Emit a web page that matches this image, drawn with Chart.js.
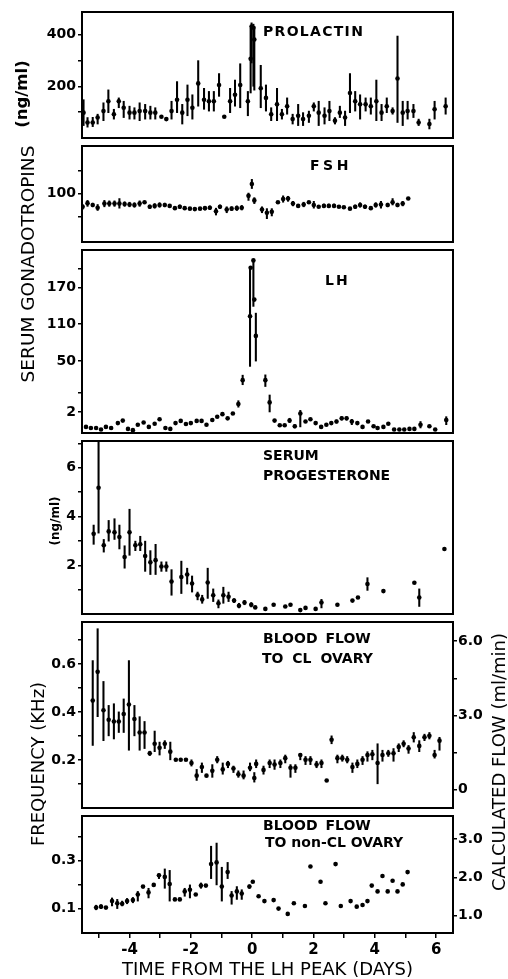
<!DOCTYPE html>
<html>
<head>
<meta charset="utf-8">
<script src="https://cdn.jsdelivr.net/npm/chart.js@4.4.1/dist/chart.umd.min.js"></script>
<style>
  html, body { margin:0; padding:0; background:#fff; }
  body { width:508px; height:979px; position:relative; overflow:hidden; }
  canvas { position:absolute; left:0; }
  .lbl { position:absolute; font-family:'DejaVu Sans'; font-weight:bold; font-size:14px; line-height:1; color:#000; white-space:pre; transform:translateY(-50%); }
  .vt { position:absolute; font-family:'DejaVu Sans'; font-size:18px; line-height:1; color:#000; white-space:nowrap; transform:translate(-50%,-50%) rotate(-90deg); }
</style>
</head>
<body>
<canvas id="c1" width="508" height="142" style="top:0"></canvas>
<canvas id="c2" width="508" height="104" style="top:142px"></canvas>
<canvas id="c3" width="508" height="191" style="top:246px"></canvas>
<canvas id="c4" width="508" height="181" style="top:437px"></canvas>
<canvas id="c5" width="508" height="194" style="top:618px"></canvas>
<canvas id="c6" width="508" height="167" style="top:812px"></canvas>

<div class="lbl" style="left:263px;top:31px;letter-spacing:1.3px">PROLACTIN</div>
<div class="lbl" style="left:310px;top:165px;letter-spacing:3.5px">FSH</div>
<div class="lbl" style="left:325px;top:280px;letter-spacing:2px">LH</div>
<div class="lbl" style="left:263px;top:455px">SERUM</div>
<div class="lbl" style="left:263px;top:475px">PROGESTERONE</div>
<div class="lbl" style="left:263px;top:638px;word-spacing:3px">BLOOD FLOW</div>
<div class="lbl" style="left:262px;top:658px;word-spacing:4px">TO CL OVARY</div>
<div class="lbl" style="left:263px;top:825px;word-spacing:3px">BLOOD FLOW</div>
<div class="lbl" style="left:265px;top:842px">TO non-CL OVARY</div>

<div class="vt" style="left:22px;top:94px;font-weight:bold;font-size:16.5px">(ng/ml)</div>
<div class="vt" style="left:28px;top:264px;font-size:18.5px">SERUM GONADOTROPINS</div>
<div class="vt" style="left:55px;top:521px;font-weight:bold;font-size:12px">(ng/ml)</div>
<div class="vt" style="left:38px;top:764px">FREQUENCY (KHz)</div>
<div class="vt" style="left:499px;top:762px">CALCULATED FLOW (ml/min)</div>

<script>
// ---------------- DATA ----------------
const dayTicks  = [-5,-4,-3,-2,-1,0,1,2,3,4,5,6];
const dayLabels = ['','-4','','-2','','0','','2','','4','','6'];

// Prolactin (ng/ml)
const prlDay = [-5.50,-5.37,-5.20,-5.04,-4.85,-4.69,-4.51,-4.35,-4.19,-4.00,-3.84,-3.67,-3.49,-3.32,-3.16,-2.96,-2.80,-2.63,-2.45,-2.28,-2.11,-1.95,-1.76,-1.57,-1.41,-1.25,-1.08,-0.91,-0.72,-0.56,-0.39,-0.14,-0.05,-0.02,0.04,0.07,0.28,0.45,0.62,0.81,0.97,1.14,1.32,1.50,1.66,1.85,2.01,2.17,2.36,2.52,2.70,2.86,3.03,3.19,3.36,3.52,3.70,3.87,4.05,4.22,4.39,4.58,4.74,4.91,5.07,5.26,5.43,5.78,5.95,6.31];
const prlVal = [98,60,60,79,104,142,92,142,117,98,98,104,104,98,98,82,73,104,148,98,148,117,211,148,142,142,205,82,142,167,205,142,306,431,426,381,192,155,92,130,92,123,73,86,73,86,123,98,86,104,67,98,79,174,142,130,130,123,142,98,123,104,230,98,104,104,60,54,111,123];
const prlLo  = [48,42,44,54,67,98,73,117,79,73,73,67,73,73,73,null,null,73,98,54,86,73,123,111,104,104,161,null,98,123,117,86,174,290,200,185,117,104,67,67,73,92,54,48,48,60,104,48,54,67,54,79,48,98,104,73,104,92,67,67,98,92,60,48,73,79,48,35,73,92];
const prlHi  = [148,79,80,92,136,186,111,155,142,123,117,136,130,123,117,null,null,142,218,130,205,167,299,192,180,180,249,null,192,224,287,180,425,445,440,430,281,205,117,192,111,155,92,130,98,104,136,142,117,142,79,123,104,249,180,167,155,155,224,130,155,117,394,142,142,130,73,73,142,155];
const prlTicks = [100,200,300,400];
const prlTickLabels = ['','200','','400'];

// FSH
const fshDay = [-5.53,-5.37,-5.20,-5.04,-4.82,-4.66,-4.49,-4.33,-4.16,-4.00,-3.84,-3.67,-3.51,-3.34,-3.18,-3.02,-2.85,-2.69,-2.52,-2.36,-2.20,-2.03,-1.87,-1.70,-1.54,-1.38,-1.18,-1.05,-0.83,-0.67,-0.50,-0.34,-0.12,-0.01,0.07,0.32,0.48,0.64,0.84,1.01,1.17,1.33,1.50,1.68,1.85,2.01,2.17,2.34,2.50,2.67,2.83,2.99,3.19,3.36,3.52,3.68,3.87,4.03,4.20,4.42,4.58,4.74,4.91,5.09];
const fshVal = [71,79,75,69,78,78,78,78,77,76,75,78,81,71,73,75,75,73,68,71,68,67,66,67,68,69,61,71,65,67,68,69,95,121,85,65,58,60,81,88,89,78,73,76,81,75,71,73,73,73,71,70,67,71,75,71,68,75,76,75,81,75,78,89];
const fshLo  = [66,72,71,63,71,72,72,68,72,71,70,72,null,67,68,70,71,null,null,67,null,null,null,null,64,65,53,67,58,63,63,64,85,111,78,58,45,51,null,81,83,73,null,71,null,68,null,69,69,69,null,null,null,67,70,67,null,70,68,71,75,71,73,null];
const fshHi  = [76,85,79,76,85,84,84,89,82,81,80,84,null,75,78,80,79,null,null,75,null,null,null,null,72,73,68,75,71,71,73,74,101,131,91,71,67,67,null,95,94,83,null,81,null,83,null,77,77,77,null,null,null,75,80,75,null,80,83,79,89,79,83,null];
const fshTicks = [50,100,150];
const fshTickLabels = ['','100',''];

// LH (broken axis)
const lhDay = [-5.42,-5.26,-5.09,-4.93,-4.77,-4.60,-4.38,-4.22,-4.05,-3.89,-3.73,-3.54,-3.37,-3.18,-3.02,-2.83,-2.67,-2.50,-2.33,-2.16,-2.00,-1.81,-1.65,-1.49,-1.30,-1.14,-0.97,-0.80,-0.63,-0.45,-0.31,-0.07,-0.05,0.04,0.07,0.12,0.43,0.57,0.73,0.90,1.06,1.22,1.39,1.57,1.74,1.90,2.07,2.25,2.42,2.58,2.75,2.92,3.08,3.25,3.43,3.60,3.78,3.96,4.09,4.28,4.44,4.63,4.80,4.96,5.13,5.29,5.49,5.78,5.97,6.33];
const lhVal = [0.58,0.48,0.48,0.33,0.58,0.48,0.94,1.18,0.39,0.27,0.79,1.0,0.58,0.88,1.30,0.48,0.39,0.94,1.15,0.85,0.94,1.15,1.15,0.79,1.24,1.55,1.79,1.39,1.85,9.5,32,123,202,214,150,91,32,11,1.18,0.73,0.73,1.18,0.64,1.85,1.09,1.30,0.94,0.58,0.79,0.94,1.09,1.39,1.39,1.09,0.94,0.58,1.09,0.64,0.48,0.58,0.88,0.33,0.33,0.33,0.39,0.39,0.79,0.64,0.33,1.24];
const lhLo = [null,null,null,null,null,null,null,null,null,null,null,null,null,null,null,null,null,null,null,null,null,null,null,null,null,null,null,null,null,6.5,27.7,45,null,139,null,50,26,2,null,null,null,1.0,0.48,0.58,null,null,null,null,null,null,0.94,1.24,1.24,0.79,null,null,null,null,null,null,null,null,null,null,null,null,0.48,null,null,0.79];
const lhHi = [null,null,null,null,null,null,null,null,null,null,null,null,null,null,null,null,null,null,null,null,null,null,null,null,null,null,null,null,null,12.6,36.7,202,null,214,null,128,37,18,null,null,null,1.4,0.79,3.5,null,null,null,null,null,null,1.24,1.55,1.55,1.30,null,null,null,null,null,null,null,null,null,null,null,null,1.09,null,null,1.55];
const lhTicks = [2,20,50,110,170,200];
const lhTickLabels = ['2','','50','110','170',''];
const lhAxisValues = [0, 2, 50, 170, 231];      // axis break points (values)
const lhAxisFrac   = [0, 0.115, 0.393, 0.796, 1]; // share of axis height at each break

// Serum progesterone (ng/ml)
const prgDay = [-5.17,-5.01,-4.84,-4.68,-4.49,-4.33,-4.16,-4.00,-3.81,-3.65,-3.49,-3.32,-3.15,-2.96,-2.80,-2.63,-2.31,-2.12,-1.96,-1.78,-1.63,-1.45,-1.27,-1.10,-0.94,-0.77,-0.59,-0.43,-0.25,-0.03,0.10,0.43,0.70,1.08,1.25,1.57,1.74,2.07,2.26,2.78,3.27,3.45,3.76,4.28,5.29,5.45,6.27];
const prgVal = [3.29,5.18,2.82,3.39,3.35,3.16,2.34,3.35,2.82,2.86,2.38,2.12,2.21,1.95,1.95,1.33,1.52,1.62,1.25,0.77,0.60,1.29,0.77,0.44,0.77,0.71,0.55,0.34,0.47,0.38,0.27,0.21,0.38,0.31,0.38,0.16,0.25,0.21,0.47,0.38,0.55,0.68,1.23,0.94,1.28,0.68,2.67];
const prgLo = [2.86,3.32,2.54,2.99,3.06,2.67,1.88,2.41,2.60,2.60,1.75,1.62,1.62,1.75,1.75,0.77,0.84,1.23,0.90,0.58,0.44,0.64,0.51,0.25,0.44,0.51,0.47,0.25,0.38,0.29,null,null,null,null,null,null,null,null,0.25,null,null,null,0.97,null,null,0.31,null];
const prgHi = [3.65,7.05,3.06,3.84,3.91,3.65,2.80,4.30,2.99,3.19,2.99,2.60,2.86,2.14,2.14,1.82,2.17,1.88,1.56,0.90,0.77,1.88,1.03,0.58,1.10,0.90,0.63,0.44,0.56,0.47,null,null,null,null,null,null,null,null,0.60,null,null,null,1.49,null,null,1.03,null];
const prgTicks = [1,2,3,4,5,6,7];
const prgTickLabels = ['','2','','4','','6',''];

// Blood flow to CL ovary (KHz)
const clDay = [-5.20,-5.04,-4.85,-4.68,-4.51,-4.35,-4.19,-4.02,-3.84,-3.67,-3.51,-3.34,-3.18,-3.02,-2.85,-2.67,-2.49,-2.33,-2.16,-1.98,-1.81,-1.64,-1.49,-1.30,-1.14,-0.96,-0.79,-0.61,-0.45,-0.28,-0.07,0.07,0.13,0.37,0.57,0.73,0.92,1.08,1.25,1.41,1.57,1.74,1.90,2.10,2.26,2.43,2.59,2.78,2.94,3.10,3.27,3.43,3.60,3.76,3.92,4.09,4.25,4.44,4.61,4.78,4.94,5.10,5.27,5.45,5.62,5.78,5.95,6.11];
const clVal = [0.448,0.568,0.408,0.368,0.361,0.361,0.392,0.432,0.371,0.315,0.315,0.228,0.268,0.251,0.268,0.235,0.201,0.201,0.201,0.188,0.135,0.171,0.135,0.155,0.201,0.161,0.184,0.165,0.141,0.135,0.168,0.125,0.184,0.159,0.188,0.181,0.188,0.208,0.168,0.168,0.221,0.201,0.201,0.181,0.188,0.115,0.285,0.208,0.208,0.201,0.171,0.184,0.201,0.221,0.224,0.188,0.221,0.228,0.228,0.255,0.268,0.248,0.295,0.259,0.295,0.301,0.221,0.281];
const clLo = [0.261,0.381,0.281,0.301,0.288,0.315,0.315,0.241,0.301,0.241,0.248,0.219,0.235,0.221,0.248,0.201,null,null,null,0.175,0.115,0.148,null,0.128,0.188,0.141,0.168,0.148,0.128,0.121,0.155,0.108,0.168,0.141,0.168,0.161,0.168,0.188,0.128,0.148,0.201,0.181,0.181,0.168,0.168,null,0.268,0.188,0.195,0.188,0.148,0.168,0.181,0.195,0.201,0.101,0.195,0.215,0.195,0.235,0.255,0.228,0.275,0.235,0.281,0.288,0.208,0.241];
const clHi = [0.615,0.748,0.528,0.428,0.435,0.401,0.455,0.615,0.428,0.381,0.361,0.237,0.321,0.275,0.281,0.275,null,null,null,0.201,0.161,0.188,null,0.181,0.215,0.188,0.195,0.175,0.155,0.155,0.188,0.148,0.201,0.175,0.201,0.201,0.201,0.221,0.181,0.181,0.228,0.215,0.215,0.195,0.201,null,0.301,0.221,0.221,0.215,0.188,0.201,0.215,0.235,0.241,0.268,0.241,0.241,0.248,0.268,0.281,0.261,0.315,0.281,0.308,0.315,0.241,0.295];
const clTicks = [0.1,0.2,0.3,0.4,0.5,0.6,0.7];
const clTickLabels = ['','0.2','','0.4','','0.6',''];
const clFlowTicks = [0,1.5,3,4.5,6];
const clFlowTickLabels = ['0','','3.0','','6.0'];

// Blood flow to non-CL ovary (KHz)
const nclDay = [-5.09,-4.93,-4.77,-4.57,-4.40,-4.24,-4.08,-3.89,-3.73,-3.56,-3.38,-3.21,-3.04,-2.85,-2.69,-2.52,-2.36,-2.20,-2.03,-1.84,-1.67,-1.51,-1.34,-1.16,-0.99,-0.80,-0.67,-0.50,-0.34,-0.09,0.02,0.21,0.40,0.70,0.86,1.16,1.36,1.72,1.90,2.23,2.39,2.72,2.89,3.21,3.41,3.60,3.76,3.90,4.09,4.25,4.42,4.58,4.74,4.91,5.07];
const nclVal = [0.105,0.109,0.105,0.132,0.123,0.121,0.132,0.136,0.159,0.192,0.168,0.199,0.239,0.232,0.203,0.139,0.139,0.172,0.179,0.159,0.196,0.196,0.285,0.292,0.192,0.252,0.155,0.172,0.163,0.192,0.212,0.152,0.132,0.136,0.101,0.079,0.123,0.112,0.275,0.212,0.123,0.285,0.112,0.132,0.109,0.116,0.132,0.196,0.172,0.236,0.172,0.216,0.172,0.201,0.252];
const nclLo = [0.096,0.101,null,0.112,0.101,0.112,0.121,0.125,0.132,null,0.145,null,0.225,0.185,0.132,null,null,0.152,0.145,null,0.185,null,0.225,0.199,0.132,0.225,0.119,0.139,0.139,0.185,null,null,null,null,null,null,null,null,null,null,null,null,null,null,null,null,null,null,null,null,null,null,null,null,null];
const nclHi = [0.115,0.117,null,0.145,0.139,0.132,0.143,0.147,0.172,null,0.185,null,0.245,0.265,0.259,null,null,0.185,0.199,null,0.207,null,0.359,0.372,0.272,0.292,0.172,0.192,0.179,0.199,null,null,null,null,null,null,null,null,null,null,null,null,null,null,null,null,null,null,null,null,null,null,null,null,null];
const nclTicks = [0.1,0.2,0.3,0.4];
const nclTickLabels = ['0.1','','0.3',''];
const nclFlowTicks = [1,2,3];
const nclFlowTickLabels = ['1.0','2.0','3.0'];

// ---------------- CHART ----------------
const FONT = 'DejaVu Sans';
const X_MIN = -5.55, X_MAX = 6.55;
const LEFT_W = 82, RIGHT_W = 55;

class PiecewiseScale extends Chart.LinearScale {
  _frac(v) {
    const a = lhAxisValues, f = lhAxisFrac;
    for (let i = 1; i < a.length; i++) {
      if (v <= a[i] || i === a.length - 1) return f[i-1] + (v - a[i-1]) * (f[i] - f[i-1]) / (a[i] - a[i-1]);
    }
  }
  getPixelForValue(v) {
    if (v === null || v === undefined || isNaN(v)) return NaN;
    return this.getPixelForDecimal(this._frac(v));
  }
  getValueForPixel(p) {
    const d = this.getDecimalForPixel(p), a = lhAxisValues, f = lhAxisFrac;
    for (let i = 1; i < a.length; i++) {
      if (d <= f[i] || i === a.length - 1) return a[i-1] + (d - f[i-1]) * (a[i] - a[i-1]) / (f[i] - f[i-1]);
    }
  }
}
PiecewiseScale.id = 'piecewise';
PiecewiseScale.defaults = Chart.LinearScale.defaults;
Chart.register(PiecewiseScale);

const framePlugin = {
  id: 'frame',
  afterDraw(chart) {
    const {ctx, chartArea: a} = chart;
    ctx.save();
    ctx.strokeStyle = '#000';
    ctx.lineWidth = 2;
    ctx.strokeRect(a.left, a.top, a.right - a.left, a.bottom - a.top);
    ctx.restore();
  }
};

function errData(day, lo, hi) {
  const out = [];
  day.forEach((d, i) => { if (lo[i] != null && hi[i] != null) out.push({x: d, y: [lo[i], hi[i]]}); });
  return out;
}
function ptData(day, val) { return day.map((d, i) => ({x: d, y: val[i]})); }

function yScale(c, pos) {
  return {
    type: c.type || 'linear', position: pos, display: true,
    min: c.min, max: c.max, offset: false,
    afterBuildTicks: s => { s.ticks = c.ticks.map(v => ({value: v})); },
    afterFit: s => { s.width = pos === 'left' ? LEFT_W : RIGHT_W; s.paddingTop = 0; s.paddingBottom = 0; },
    ticks: { callback: (v, i) => c.labels[i], font: {family: FONT, size: 14, weight: 'bold'}, color: '#000', padding: pos === 'left' ? 2 : 1, autoSkip: false, maxRotation: 0 },
    grid: { drawOnChartArea: false, drawTicks: true, tickLength: 4, color: '#000', lineWidth: 1.5, offset: false },
    border: { display: false }
  };
}
function xScale(show) {
  const s = { type: 'linear', min: X_MIN, max: X_MAX, display: !!show, offset: false, grid: { offset: false } };
  if (show) Object.assign(s, {
    afterBuildTicks: sc => { sc.ticks = dayTicks.map(v => ({value: v})); },
    afterFit: sc => { sc.height = 46; sc.paddingLeft = 0; sc.paddingRight = 0; },
    ticks: { callback: (v, i) => dayLabels[i], font: {family: FONT, size: 15, weight: 'bold'}, color: '#000', padding: 3, autoSkip: false, maxRotation: 0 },
    grid: { drawOnChartArea: false, drawTicks: true, tickLength: 5, color: '#000', lineWidth: 1.5, offset: false },
    border: { display: false },
    title: { display: true, text: 'TIME FROM THE LH PEAK (DAYS)', color: '#000', font: {family: FONT, size: 18, lineHeight: 1}, padding: {top: 0, bottom: 0} }
  });
  return s;
}

function panel(id, o) {
  const scales = { x: xScale(o.showX), y: yScale(o.y, 'left') };
  if (o.y2) scales.y2 = yScale(o.y2, 'right');
  new Chart(document.getElementById(id), {
    type: 'scatter',
    data: { datasets: [
      { type: 'bar', data: errData(o.day, o.lo, o.hi), backgroundColor: '#000', borderWidth: 0, barThickness: 1.4, yAxisID: 'y', order: 2 },
      { type: 'scatter', data: ptData(o.day, o.val), pointRadius: 2.3, pointBackgroundColor: '#000', pointBorderWidth: 0, yAxisID: 'y', order: 1 }
    ]},
    options: {
      responsive: false, animation: false, events: [], devicePixelRatio: 1,
      layout: { padding: { top: o.padTop || 0, right: o.y2 ? 0 : RIGHT_W, left: 0, bottom: 0 } },
      plugins: { legend: {display: false}, tooltip: {enabled: false} },
      scales
    },
    plugins: [framePlugin]
  });
}

panel('c1', { padTop: 12, day: prlDay, val: prlVal, lo: prlLo, hi: prlHi,
  y: { min: 0, max: 487, ticks: prlTicks, labels: prlTickLabels } });
panel('c2', { day: fshDay, val: fshVal, lo: fshLo, hi: fshHi,
  y: { min: -6, max: 204, ticks: fshTicks, labels: fshTickLabels } });
panel('c3', { day: lhDay, val: lhVal, lo: lhLo, hi: lhHi,
  y: { type: 'piecewise', min: 0, max: 231, ticks: lhTicks, labels: lhTickLabels } });
panel('c4', { day: prgDay, val: prgVal, lo: prgLo, hi: prgHi,
  y: { min: 0, max: 7.1, ticks: prgTicks, labels: prgTickLabels } });
panel('c5', { day: clDay, val: clVal, lo: clLo, hi: clHi,
  y: { min: 0, max: 0.776, ticks: clTicks, labels: clTickLabels },
  y2: { min: -0.736, max: 6.775, ticks: clFlowTicks, labels: clFlowTickLabels } });
panel('c6', { showX: true, day: nclDay, val: nclVal, lo: nclLo, hi: nclHi,
  y: { min: 0, max: 0.484, ticks: nclTicks, labels: nclTickLabels },
  y2: { min: 0.544, max: 3.608, ticks: nclFlowTicks, labels: nclFlowTickLabels } });
</script>
</body>
</html>
